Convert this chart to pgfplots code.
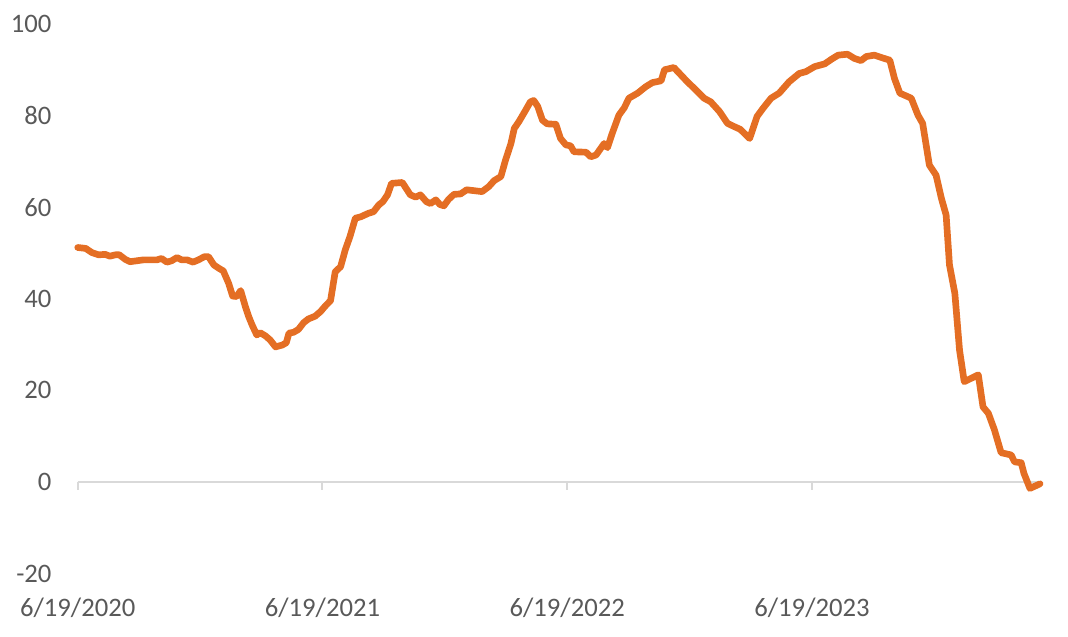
\documentclass[border=0pt]{standalone}
\usepackage{pgfplots}
\usepackage{pgfplotstable}
\pgfplotsset{compat=1.18}
\usepackage{fontspec}
\setmainfont{Carlito}
\definecolor{lineorange}{RGB}{228,110,36}
\definecolor{txtgray}{RGB}{89,89,89}
\definecolor{axgray}{RGB}{217,217,217}

\pgfplotstableread{
day value
0 51.2
12 51.0
21 50.1
31 49.6
41 49.7
48 49.3
56 49.6
62 49.6
71 48.6
78 48.1
88 48.3
98 48.5
118 48.5
125 48.8
133 48.0
140 48.3
148 49.0
155 48.5
163 48.5
172 48.0
180 48.5
189 49.2
195 49.2
203 47.4
210 46.7
217 46.1
225 43.4
231 40.6
237 40.5
243 41.8
250 38.3
255 36.1
260 34.3
267 32.1
272 32.6
280 31.9
287 31.0
295 29.5
305 29.9
311 30.4
315 32.5
322 32.7
329 33.3
337 34.8
344 35.6
354 36.2
362 37.2
369 38.4
377 39.6
384 45.9
392 47.0
399 50.7
406 53.6
414 57.6
422 57.9
434 58.7
441 59.0
449 60.5
455 61.2
462 62.7
468 65.2
484 65.4
496 62.7
504 62.2
511 62.7
520 61.2
526 60.8
534 61.6
540 60.6
546 60.3
553 61.7
561 62.8
571 62.9
580 63.8
603 63.4
613 64.5
621 65.8
631 66.7
638 70.3
646 73.9
651 77.2
658 78.7
668 81.2
675 83.0
680 83.3
686 82.0
693 79.0
700 78.2
713 78.1
720 75.0
728 73.6
735 73.4
740 72.1
758 72.0
765 71.0
773 71.4
785 73.9
790 73.0
797 76.1
807 80.1
815 81.7
822 83.8
835 84.9
847 86.3
857 87.2
870 87.6
875 90.0
889 90.5
900 88.8
909 87.4
919 86.0
934 83.8
944 83.0
957 80.9
969 78.3
979 77.6
988 77.0
1002 75.0
1013 79.8
1022 81.6
1034 83.8
1046 84.9
1061 87.4
1076 89.2
1086 89.6
1099 90.7
1114 91.3
1124 92.3
1134 93.2
1148 93.4
1158 92.5
1168 92.0
1176 92.9
1188 93.2
1198 92.7
1211 92.1
1218 88.1
1226 84.9
1243 83.8
1253 80.1
1260 78.3
1270 69.2
1280 67.0
1288 61.9
1295 58.3
1300 47.4
1308 41.2
1315 28.8
1322 21.9
1343 23.4
1350 16.4
1358 15.0
1367 11.4
1377 6.4
1392 5.9
1397 4.4
1407 4.2
1411 1.9
1420 -1.4
1435 -0.4
}\datatable

\begin{document}
\begin{tikzpicture}
\begin{axis}[
  scale only axis,
  width=721.7pt, height=412.2pt,
  xmin=0, xmax=1435, ymin=-20, ymax=100,
  axis line style={draw=none},
  xtick={0,365,730,1095},
  xticklabels={6/19/2020,6/19/2021,6/19/2022,6/19/2023},
  ytick={-20,0,20,40,60,80,100},
  yticklabels={-20,0,20,40,60,80,100},
  major tick length=0pt,
  tick style={draw=none},
  ticklabel style={font=\fontsize{20}{24}\selectfont, text=txtgray, inner sep=0pt},
  yticklabel style={anchor=east, xshift=-19.5pt},
  xticklabel style={anchor=base, yshift=-32.3pt},
  clip=false,
]
\draw[axgray, line width=1.5pt] (axis cs:0,0) -- (axis cs:1435,0);
\draw[axgray, line width=1.5pt] (axis cs:0,0) -- ([yshift=-6pt]axis cs:0,0);
\draw[axgray, line width=1.5pt] (axis cs:365,0) -- ([yshift=-6pt]axis cs:365,0);
\draw[axgray, line width=1.5pt] (axis cs:730,0) -- ([yshift=-6pt]axis cs:730,0);
\draw[axgray, line width=1.5pt] (axis cs:1095,0) -- ([yshift=-6pt]axis cs:1095,0);
\addplot[lineorange, line width=5pt, line join=round, line cap=round] table[x=day, y=value]{\datatable};
\coordinate (sw) at (rel axis cs:0,0);
\end{axis}
\pgfresetboundingbox
\path (sw) ++(-58.3pt,-46.8pt) rectangle ++(801pt,477pt);
\end{tikzpicture}
\end{document}
